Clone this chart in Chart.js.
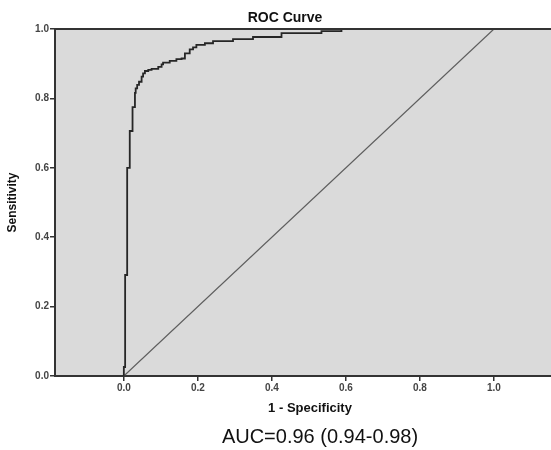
<!DOCTYPE html>
<html>
<head>
<meta charset="utf-8">
<script src="https://cdn.jsdelivr.net/npm/chart.js@4"></script>
<style>
  html, body { margin: 0; padding: 0; background: #fff; overflow: hidden; }
  #rocChart { display: block; }
</style>
</head>
<body>
<canvas id="rocChart" width="565" height="450"></canvas>
<script>
// ROC curve (1 - specificity, sensitivity)
const fpr = [0, 0.0035, 0.009, 0.016, 0.0235, 0.030, 0.032, 0.036, 0.041, 0.048, 0.052, 0.057, 0.066, 0.075, 0.093, 0.102, 0.106, 0.124, 0.142, 0.156, 0.165, 0.178, 0.187, 0.196, 0.219, 0.241, 0.295, 0.349, 0.372, 0.426, 0.534, 0.588, 0.835, 1.0];
const tpr = [0, 0.026, 0.291, 0.600, 0.706, 0.775, 0.816, 0.829, 0.839, 0.848, 0.863, 0.872, 0.879, 0.882, 0.885, 0.891, 0.898, 0.903, 0.908, 0.913, 0.915, 0.930, 0.941, 0.947, 0.954, 0.959, 0.965, 0.971, 0.977, 0.977, 0.988, 0.994, 1.0, 1.0];
const refX = [0, 1];
const refY = [0, 1];
const xTicks = [0, 0.2, 0.4, 0.6, 0.8, 1.0];
const yTicks = [0, 0.2, 0.4, 0.6, 0.8, 1.0];
const chartTitle = "ROC Curve";
const xLabel = "1 - Specificity";
const yLabel = "Sensitivity";
const aucText = "AUC=0.96 (0.94-0.98)";

Chart.defaults.font.family = "'Liberation Sans', Arial, sans-serif";

const frame = {
  id: 'frame',
  beforeDraw(chart) {
    const { ctx, chartArea: a } = chart;
    ctx.save();
    ctx.fillStyle = '#dadada';
    ctx.fillRect(a.left, a.top, a.right - a.left, a.bottom - a.top);
    ctx.restore();
  },
  afterDraw(chart) {
    const { ctx, chartArea: a } = chart;
    ctx.save();
    ctx.strokeStyle = '#333';
    ctx.lineWidth = 2;
    ctx.beginPath();
    ctx.moveTo(a.left, a.top);
    ctx.lineTo(a.right, a.top);
    ctx.stroke();

    ctx.fillStyle = '#111';
    ctx.textAlign = 'center';
    ctx.textBaseline = 'middle';
    ctx.font = "bold 14px 'Liberation Sans', Arial, sans-serif";
    ctx.fillText(chartTitle, 285, 18);
    ctx.font = "20px 'Liberation Sans', Arial, sans-serif";
    ctx.fillText(aucText, 320, 437);
    ctx.restore();
  }
};

const axisGrid = { display: true, drawOnChartArea: false, drawTicks: true, tickLength: 5, color: '#333', lineWidth: 1.5 };

new Chart(document.getElementById('rocChart').getContext('2d'), {
  type: 'line',
  data: {
    datasets: [
      {
        label: 'ROC',
        data: fpr.map((x, i) => ({ x, y: tpr[i] })),
        borderColor: '#262626',
        borderWidth: 1.8,
        stepped: 'after',
        pointRadius: 0,
        fill: false
      },
      {
        label: 'Reference',
        data: refX.map((x, i) => ({ x, y: refY[i] })),
        borderColor: '#5e5e5e',
        borderWidth: 1.2,
        pointRadius: 0,
        fill: false
      }
    ]
  },
  options: {
    responsive: false,
    animation: false,
    layout: { padding: { top: 29, left: 0, right: 0, bottom: 29 } },
    plugins: {
      legend: { display: false },
      tooltip: { enabled: false }
    },
    scales: {
      x: {
        type: 'linear',
        min: -0.186,
        max: 1.192,
        afterBuildTicks: s => { s.ticks = xTicks.map(v => ({ value: v })); },
        afterFit: s => { s.height = 45; },
        ticks: { padding: 1, color: '#444', font: { size: 10, weight: 'bold' }, callback: v => v.toFixed(1) },
        grid: axisGrid,
        border: { display: true, color: '#333', width: 2 },
        title: { display: true, text: xLabel, color: '#111', font: { size: 13, weight: 'bold' }, padding: { top: 0, bottom: 5 } }
      },
      y: {
        type: 'linear',
        min: 0,
        max: 1,
        afterBuildTicks: s => { s.ticks = yTicks.map(v => ({ value: v })); },
        afterFit: s => { s.width = 55; },
        ticks: { padding: 1, color: '#444', font: { size: 10, weight: 'bold' }, callback: v => v.toFixed(1) },
        grid: axisGrid,
        border: { display: true, color: '#333', width: 2 },
        title: { display: true, text: yLabel, color: '#111', font: { size: 12, weight: 'bold' }, padding: { top: 5, bottom: 0 } }
      }
    }
  },
  plugins: [frame]
});
</script>
</body>
</html>
